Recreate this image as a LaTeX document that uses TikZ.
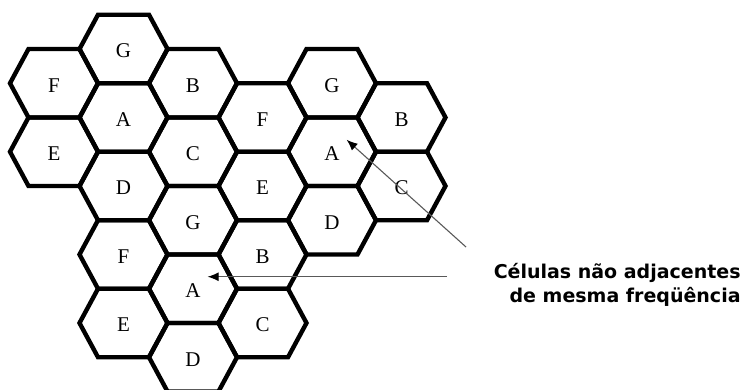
\documentclass[tikz,border=0pt]{standalone}
\usepackage{fontspec}
\setmainfont{Liberation Serif}
\newfontfamily\legendfont{DejaVu Sans}
\usetikzlibrary{arrows.meta}

\tikzset{
	cell/.style={line width=2.2pt, line join=miter},
	lbl/.style={font=\fontsize{10.5}{12}\selectfont},
	pointer/.style={-{Latex[length=5.5pt,width=4.5pt,black]}, line width=0.55pt, black!65},
	legend/.style={font=\legendfont\bfseries\fontsize{9.5}{12}\selectfont, align=right, inner sep=0pt}
}

\begin{document}
\begin{tikzpicture}[x=0.5pt,y=0.5pt]
	\useasboundingbox (0,0) rectangle (743,390);
	% three clusters of seven cells: column / half row / letter / name
	\foreach \c/\r/\l/\n in {1/0/G/G1, 0/1/F/F1, 2/1/B/B1, 1/2/A/A1, 0/3/E/E1, 2/3/C/C1, 1/4/D/D1,
		4/1/G/G2, 3/2/F/F2, 5/2/B/B2, 4/3/A/A2, 3/4/E/E2, 5/4/C/C2, 4/5/D/D2,
		2/5/G/G3, 1/6/F/F3, 3/6/B/B3, 2/7/A/A3, 1/8/E/E3, 3/8/C/C3, 2/9/D/D3}
	{
		\draw[cell] ({54+69.5*\c},{341-34.25*\r}) ++(-44,0) -- ++(18.5,34.25) -- ++(51,0)
			-- ++(18.5,-34.25) -- ++(-18.5,-34.25) -- ++(-51,0) -- cycle;
		\node[lbl] (\n) at ({54+69.5*\c},{339-34.25*\r}) {\l};
	}
	\node[legend, anchor=east] (legenda) at (741,105) {Células não adjacentes\\de mesma freqüência};
	\coordinate (c1) at (466,143);
	\coordinate (c2) at (447,112);
	\draw[pointer] (c1) -- (A2.north east);
	\draw[pointer] (c2 |- A3.north east) -- (A3.north east);
\end{tikzpicture}
\end{document}
